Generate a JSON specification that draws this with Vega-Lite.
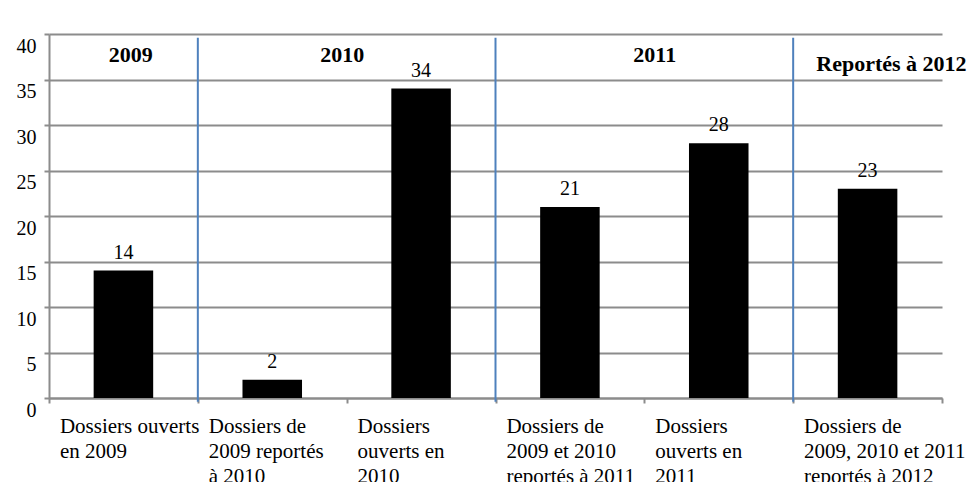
{
  "$schema": "https://vega.github.io/schema/vega-lite/v6.json",
  "width": 893,
  "height": 364,
  "autosize": "none",
  "padding": {"left": 49, "top": 34, "right": 31, "bottom": 84},
  "background": "white",
  "config": {
    "font": "Liberation Serif",
    "view": {"stroke": null},
    "text": {"font": "Liberation Serif", "color": "black"}
  },
  "datasets": {
    "dossiers": [
      {"cat": "Dossiers ouverts|en 2009", "value": 14},
      {"cat": "Dossiers de|2009 reportés|à 2010", "value": 2},
      {"cat": "Dossiers|ouverts en|2010", "value": 34},
      {"cat": "Dossiers de|2009 et 2010|reportés à 2011", "value": 21},
      {"cat": "Dossiers|ouverts en|2011", "value": 28},
      {"cat": "Dossiers de|2009, 2010 et 2011|reportés à 2012", "value": 23}
    ],
    "separateurs": [
      {"cat": "Dossiers de|2009 reportés|à 2010"},
      {"cat": "Dossiers de|2009 et 2010|reportés à 2011"},
      {"cat": "Dossiers de|2009, 2010 et 2011|reportés à 2012"}
    ]
  },
  "layer": [
    {
      "data": {"name": "dossiers"},
      "mark": {"type": "bar", "color": "black", "width": {"band": 0.4}},
      "encoding": {
        "x": {
          "field": "cat",
          "type": "nominal",
          "scale": {
            "domain": [
              "Dossiers ouverts|en 2009",
              "Dossiers de|2009 reportés|à 2010",
              "Dossiers|ouverts en|2010",
              "Dossiers de|2009 et 2010|reportés à 2011",
              "Dossiers|ouverts en|2011",
              "Dossiers de|2009, 2010 et 2011|reportés à 2012"
            ],
            "paddingInner": 0,
            "paddingOuter": 0
          },
          "axis": {
            "title": null,
            "grid": false,
            "domainColor": "#8c8c8c",
            "domainWidth": 2,
            "ticks": true,
            "tickBand": "extent",
            "tickSize": 5,
            "tickWidth": 2,
            "tickColor": "#8c8c8c",
            "labelExpr": "isString(datum.value) ? split(datum.value, '|') : ''",
            "labelAngle": 0,
            "labelAlign": "left",
            "labelBaseline": "top",
            "labelOffset": -64,
            "labelPadding": 12,
            "labelFontSize": 21,
            "labelLineHeight": 25,
            "labelColor": "black",
            "labelLimit": 400,
            "labelOverlap": false,
            "labelBound": false,
            "labelFlush": false
          }
        },
        "y": {
          "field": "value",
          "type": "quantitative",
          "scale": {"domain": [0, 40], "nice": false},
          "axis": {
            "title": null,
            "values": [0, 5, 10, 15, 20, 25, 30, 35, 40],
            "grid": true,
            "gridColor": "#8c8c8c",
            "gridWidth": 2,
            "domainColor": "#8c8c8c",
            "domainWidth": 2,
            "tickColor": "#8c8c8c",
            "tickWidth": 2,
            "tickSize": 5,
            "labelFontSize": 20,
            "labelColor": "black",
            "labelAlign": "right",
            "labelBaseline": "middle",
            "labelPadding": 8,
            "labelOffset": 12
          }
        }
      }
    },
    {
      "data": {"name": "dossiers"},
      "mark": {"type": "text", "fontSize": 20, "baseline": "alphabetic", "align": "center", "dy": -12},
      "encoding": {
        "x": {"field": "cat", "type": "nominal"},
        "y": {"field": "value", "type": "quantitative"},
        "text": {"field": "value", "type": "quantitative"}
      }
    },
    {
      "data": {"name": "separateurs"},
      "mark": {"type": "rule", "color": "#4f81bd", "strokeWidth": 2},
      "encoding": {
        "x": {"field": "cat", "type": "nominal", "bandPosition": 0},
        "y": {"datum": 39.6},
        "y2": {"datum": -0.4}
      }
    },
    {
      "data": {"values": [{"cat": "Dossiers ouverts|en 2009", "annee": "2009"}]},
      "mark": {"type": "text", "fontSize": 22, "fontWeight": "bold", "align": "center", "baseline": "middle"},
      "encoding": {
        "x": {"field": "cat", "type": "nominal", "bandPosition": 0.55},
        "y": {"datum": 37.7},
        "text": {"field": "annee"}
      }
    },
    {
      "data": {"values": [{"cat": "Dossiers de|2009 reportés|à 2010", "annee": "2010"}]},
      "mark": {"type": "text", "fontSize": 22, "fontWeight": "bold", "align": "center", "baseline": "middle"},
      "encoding": {
        "x": {"field": "cat", "type": "nominal", "bandPosition": 0.97},
        "y": {"datum": 37.7},
        "text": {"field": "annee"}
      }
    },
    {
      "data": {"values": [{"cat": "Dossiers|ouverts en|2011", "annee": "2011"}]},
      "mark": {"type": "text", "fontSize": 22, "fontWeight": "bold", "align": "center", "baseline": "middle"},
      "encoding": {
        "x": {"field": "cat", "type": "nominal", "bandPosition": 0.07},
        "y": {"datum": 37.7},
        "text": {"field": "annee"}
      }
    },
    {
      "data": {"values": [{"cat": "Dossiers de|2009, 2010 et 2011|reportés à 2012", "annee": "Reportés à 2012"}]},
      "mark": {"type": "text", "fontSize": 22, "fontWeight": "bold", "align": "center", "baseline": "middle"},
      "encoding": {
        "x": {"field": "cat", "type": "nominal", "bandPosition": 0.66},
        "y": {"datum": 36.7},
        "text": {"field": "annee"}
      }
    }
  ]
}
